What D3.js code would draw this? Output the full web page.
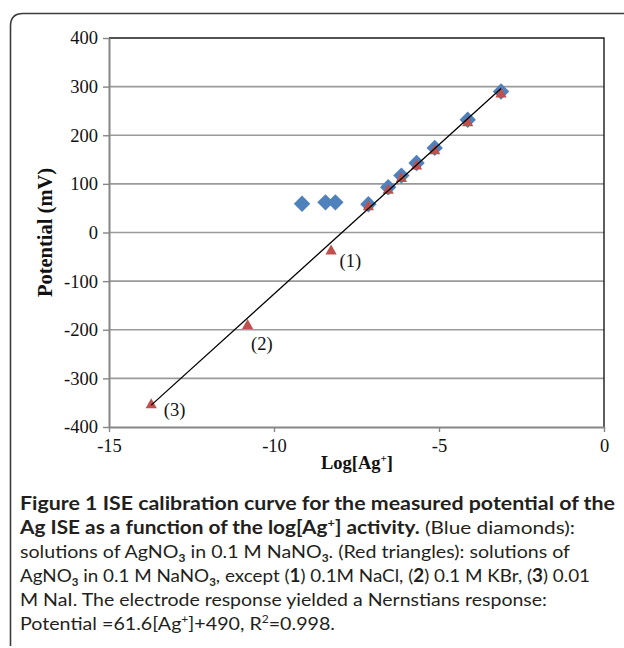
<!DOCTYPE html>
<html><head><meta charset="utf-8">
<script src="https://cdn.jsdelivr.net/npm/d3@7"></script>
<style>body{margin:0;background:#fff}svg{display:block}</style>
</head><body><svg id="c" width="624" height="648"></svg>
<script>
// ---- data ----
const blueX = [-9.15, -8.44, -8.14, -7.14, -6.54, -6.14, -5.68, -5.13, -4.13, -3.12];
const blueY = [59, 62, 62, 58, 93, 117, 143, 174, 232, 290];
const redX  = [-8.27, -10.80, -13.72, -7.14, -6.54, -6.14, -5.68, -5.13, -4.13, -3.12];
const redY  = [-35, -188, -351, 56, 90, 114, 140, 171, 229, 288];
const redLabels = ["(1)", "(2)", "(3)", "", "", "", "", "", "", ""];
const trendX = [-13.72, -3.12];
const trendY = [-355, 296];
const xTicks = [-15, -10, -5, 0];
const yTicks = [-400, -300, -200, -100, 0, 100, 200, 300, 400];
const xTitle = "Log[Ag";
const yTitle = "Potential (mV)";

// ---- layout ----
const svg = d3.select("#c");
const L = 109, R = 604, T = 38, B = 427;
const x = d3.scaleLinear().domain([-15, 0]).range([L, R]);
const y = d3.scaleLinear().domain([-400, 400]).range([B, T]);
const serif = "'Liberation Serif','Times New Roman',serif";
const grid = "#9a9a9a", axisCol = "#868686";

// frame
svg.append("path")
  .attr("d", "M10.5,646 L10.5,26 Q10.5,13.5 23,13.5 L624,13.5")
  .attr("fill", "none").attr("stroke", "#3c3c3c").attr("stroke-width", 1.6);

// gridlines
svg.append("g").selectAll("line").data(yTicks.filter(v => v > -400 && v < 400)).join("line")
  .attr("x1", L).attr("x2", R).attr("y1", d => y(d)).attr("y2", d => y(d))
  .attr("stroke", grid).attr("stroke-width", 1.6);

// plot border top/right
svg.append("path").attr("d", `M${L},${y(400)}H${R}V${B}`)
  .attr("fill", "none").attr("stroke", "#1a1a1a").attr("stroke-width", 1.4);

// axes
const yAxis = svg.append("g").attr("transform", `translate(${L},0)`)
  .call(d3.axisLeft(y).tickValues(yTicks).tickSize(6).tickSizeOuter(0).tickPadding(5));
const xAxis = svg.append("g").attr("transform", `translate(0,${B})`)
  .call(d3.axisBottom(x).tickValues(xTicks).tickSize(5).tickSizeOuter(0).tickPadding(7)
    .tickFormat(d3.format("d")));
[yAxis, xAxis].forEach(g => {
  g.select(".domain").attr("stroke", axisCol).attr("stroke-width", 2);
  g.selectAll(".tick line").attr("stroke", axisCol).attr("stroke-width", 1.4);
  g.selectAll("text").attr("font-family", serif).attr("font-size", 18.5).attr("fill", "#111");
});
xAxis.selectAll("text").text(d => d < 0 ? "-" + Math.abs(d) : d);
yAxis.selectAll("text").text(d => d < 0 ? "-" + Math.abs(d) : d);

// axis titles
svg.append("text").attr("transform", `translate(52,${y(0)}) rotate(-90)`)
  .attr("text-anchor", "middle").attr("font-family", serif).attr("font-weight", "bold")
  .attr("font-size", 20.5).attr("fill", "#111").text(yTitle);
const xt = svg.append("text").attr("x", (L + R) / 2 + 0.5).attr("y", 469)
  .attr("text-anchor", "middle").attr("font-family", serif).attr("font-weight", "bold")
  .attr("font-size", 18.5).attr("fill", "#111");
xt.append("tspan").text(xTitle);
xt.append("tspan").attr("font-size", 11).attr("dy", -7).text("+");
xt.append("tspan").attr("dy", 7).text("]");

// blue diamonds
const blue = blueX.map((v, i) => ({x: v, y: blueY[i]}));
svg.append("g").selectAll("path").data(blue).join("path")
  .attr("transform", d => `translate(${x(d.x)},${y(d.y)})`)
  .attr("d", "M0,-8.2L8.2,0L0,8.2L-8.2,0Z")
  .attr("fill", "#4f81bd");

// red triangles
const red = redX.map((v, i) => ({x: v, y: redY[i], lab: redLabels[i]}));
svg.append("g").selectAll("path").data(red).join("path")
  .attr("transform", d => `translate(${x(d.x)},${y(d.y)})`)
  .attr("d", "M0,-5L5.6,5H-5.6Z")
  .attr("fill", "#c0504d");

// trend line
svg.append("line")
  .attr("x1", x(trendX[0])).attr("y1", y(trendY[0]))
  .attr("x2", x(trendX[1])).attr("y2", y(trendY[1]))
  .attr("stroke", "#000").attr("stroke-width", 1.3);

// point labels
const labOff = [[8.5, 17], [3.5, 26], [12.5, 13]];
svg.append("g").selectAll("text").data(red.filter(d => d.lab)).join("text")
  .attr("x", (d, i) => x(d.x) + labOff[i][0]).attr("y", (d, i) => y(d.y) + labOff[i][1])
  .attr("font-family", serif).attr("font-size", 18.5).attr("fill", "#111").text(d => d.lab);

// caption
const sans = "Lato,'Open Sans',sans-serif";
const capCol = "#231f20";
const lines = [
  {w: 595, parts: [["Figure 1 ISE calibration curve for the measured potential of the", "b"]]},
  {w: 555, parts: [["Ag ISE as a function of the log[Ag", "b"], ["+", "bsup"], ["] activity.", "b"], [" (Blue diamonds):", ""]]},
  {w: 550, parts: [["solutions of AgNO", ""], ["3", "sub"], [" in 0.1 M NaNO", ""], ["3", "sub"], [". (Red triangles): solutions of", ""]]},
  {w: 570, parts: [["AgNO", ""], ["3", "sub"], [" in 0.1 M NaNO", ""], ["3", "sub"], [", except (", ""], ["1", "b"], [") 0.1M NaCl, (", ""], ["2", "b"], [") 0.1 M KBr, (", ""], ["3", "b"], [") 0.01", ""]]},
  {w: 527, parts: [["M NaI. The electrode response yielded a Nernstians response:", ""]]},
  {w: 315, parts: [["Potential =61.6[Ag", ""], ["+", "sup"], ["]+490, R", ""], ["2", "sup"], ["=0.998.", ""]]}
];
const base0 = 510, lh = 24;
lines.forEach((ln, i) => {
  const t = svg.append("text").attr("x", 20).attr("y", base0 + i * lh)
    .attr("font-family", sans).attr("font-size", 18).attr("fill", capCol)
    .attr("textLength", ln.w).attr("lengthAdjust", "spacingAndGlyphs");
  let shift = 0;
  ln.parts.forEach(([s, k]) => {
    const sp = t.append("tspan").text(s);
    let target = 0;
    if (k.includes("b")) sp.attr("font-weight", "bold");
    if (k.includes("sup")) { sp.attr("font-size", 11); target = -7; }
    if (k === "sub") { sp.attr("font-size", 11); target = 4; }
    if (target !== shift) { sp.attr("dy", target - shift); shift = target; }
    else if (shift !== 0 && target === 0) { sp.attr("dy", -shift); shift = 0; }
  });
});
</script>
</body></html>
